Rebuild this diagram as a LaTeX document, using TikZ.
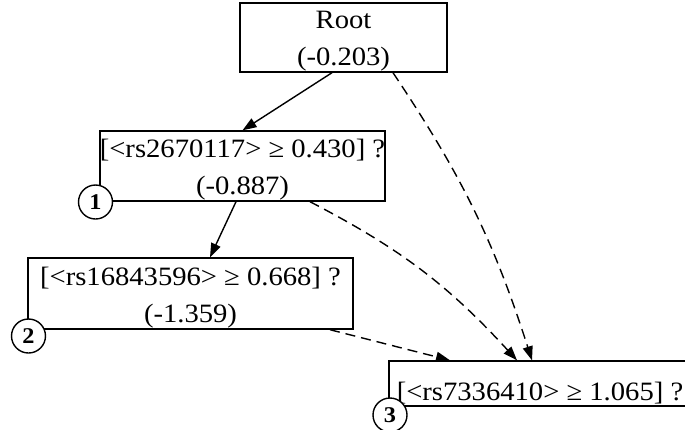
\documentclass[tikz,border=0pt]{standalone}
\usepackage{fontspec}
\setmainfont{Liberation Serif}[FakeStretch=1.08]
\usetikzlibrary{arrows.meta,calc}
\tikzset{
  box/.style={draw, line width=1.4pt, rectangle, inner sep=0pt},
  txt/.style={inner sep=0pt, align=center, anchor=base,
    font=\fontsize{26.5}{37}\selectfont},
  num/.style={draw, circle, fill=white, line width=1.4pt, minimum size=34pt,
    inner sep=0pt, font=\fontsize{22.5}{22.5}\selectfont\bfseries},
  solidarrow/.style={line width=1.4pt, -{Triangle[length=14pt,width=10pt]}},
  dasharrow/.style={solidarrow, dash pattern=on 10pt off 6pt},
}
\begin{document}
\begin{tikzpicture}[x=1pt,y=-1pt]
\useasboundingbox (0,0) rectangle (685,429);
% boxes
\node[box, minimum width=207pt, minimum height=69pt] (root) at (343.5,37.5) {};
\node[box, minimum width=285pt, minimum height=70pt] (n1) at (242.5,166) {};
\node[box, minimum width=325pt, minimum height=71pt] (n2) at (190.5,293.5) {};
\node[box, minimum width=302pt, minimum height=45pt] (n3) at (540,383.5) {};
% texts (base = baseline of the last line)
\node[txt] (root-t) at ([yshift=7pt]root.south) {Root\\(-0.203)};
\node[txt] (n1-t) at ([yshift=7pt]n1.south) {[<rs2670117> ≥ 0.430] ?\\(-0.887)};
\node[txt] (n2-t) at ([yshift=7pt]n2.south) {[<rs16843596> ≥ 0.668] ?\\(-1.359)};
\node[txt] (n3-t) at ([yshift=6pt]n3.south) {[<rs7336410> ≥ 1.065] ?};
% numbered circles
\node[num] (c1) at (95.5,202) {1};
\node[num] (c2) at (28.5,336) {2};
\node[num] (c3) at (390,415) {3};
% connectors
\draw[solidarrow] ([xshift=-11.5pt]root.south) -- (n1.north);
\draw[dasharrow] ([xshift=49.5pt]root.south) to[bend left=8] ([xshift=-8pt]n3.north);
\draw[solidarrow] ([xshift=-6.5pt]n1.south) -- ([xshift=19.5pt]n2.north);
\draw[dasharrow] ([xshift=67.5pt]n1.south) to[bend left=10] ([xshift=-23pt]n3.north);
\draw[dasharrow] ([xshift=139.5pt]n2.south) -- ([xshift=-90pt]n3.north);
\end{tikzpicture}
\end{document}
